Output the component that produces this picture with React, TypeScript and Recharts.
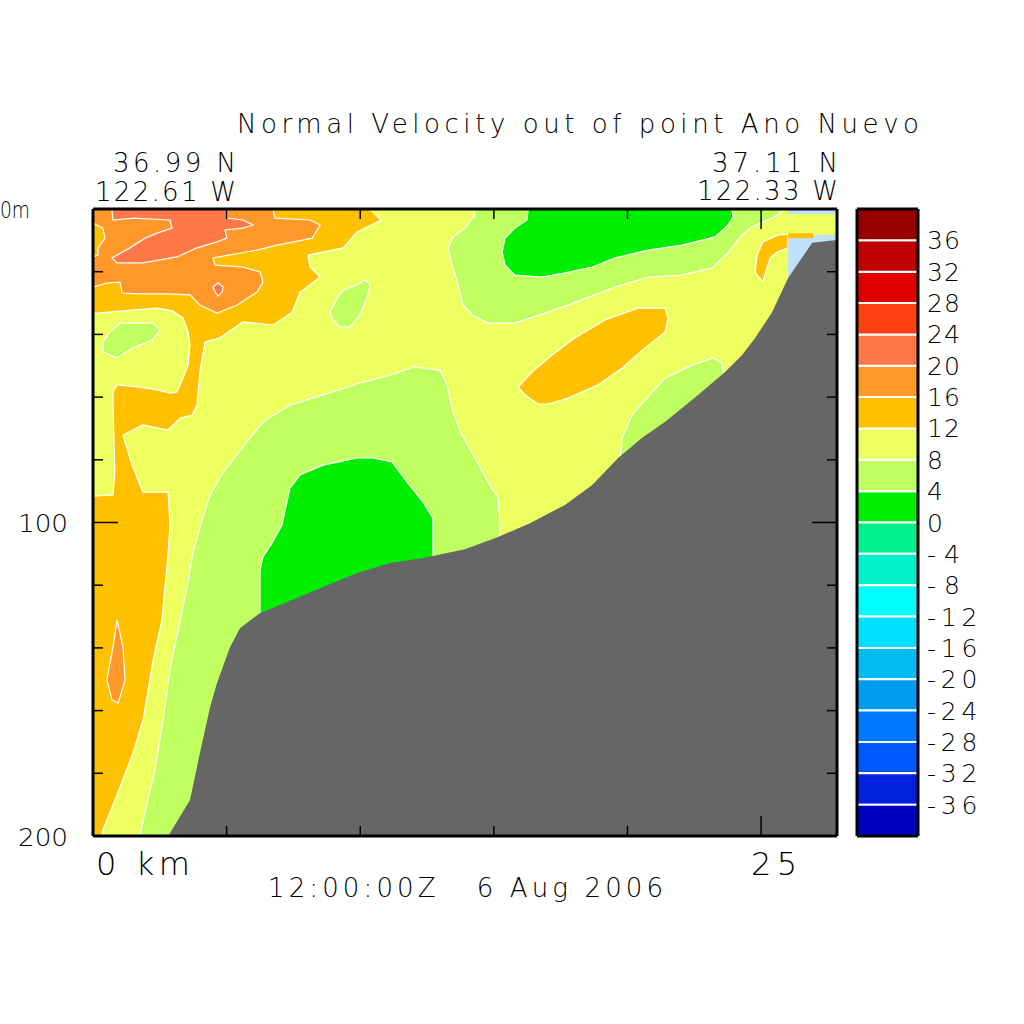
import React from 'react';
import { ComposedChart, Area, XAxis, YAxis, BarChart, Bar } from 'recharts';

type Pt = [number, number]; // [distance km, depth m]

// contour levels (cm/s) and the fill of each band between two levels
const LEVELS = [-40, -36, -32, -28, -24, -20, -16, -12, -8, -4, 0, 4, 8, 12, 16, 20, 24, 28, 32, 36, 40];
const BAND_COLORS = [
  '#0000c0', '#0020e0', '#0058ff', '#0078ff', '#009cf0', '#00bcf0', '#00e0ff', '#00ffff', '#00f0cc', '#00f08c',
  '#00ee00', '#c0ff60', '#eeff60', '#ffc000', '#ff9828', '#ff7848', '#ff4010', '#e00000', '#c00000', '#980000',
];
const bandColor = (lo: number) => BAND_COLORS[LEVELS.indexOf(lo)];

const TERRAIN_COLOR = '#666666';
const NO_DATA_COLOR = '#c0e0ff';

const KM_MAX = 27.84;
const KM_TICKS = [0, 5, 10, 15, 20, 25];
const DEPTH_TICKS = [0, 20, 40, 60, 80, 100, 120, 140, 160, 180, 200];
const CB_TICKS = [-36, -32, -28, -24, -20, -16, -12, -8, -4, 0, 4, 8, 12, 16, 20, 24, 28, 32, 36];

// contour regions, [km, m]
const BACKGROUND: Pt[] = [[-1, -5], [29, -5], [29, 205], [-1, 205]];

const ORANGE_WEST: Pt[] = [
  [9.99, -3], [10.78, 3.5], [9.88, 7.3], [9.36, 12.4], [8.05, 14.7], [8.12, 18.5], [8.5, 21.7], [7.75, 26.5],
  [7.45, 32.9], [6.74, 37.0], [5.61, 36.0], [4.75, 41.1], [4.19, 42.4], [4.0, 52.0], [3.89, 62.5], [3.71, 65.7],
  [3.26, 66.7], [2.81, 70.5], [1.87, 68.9], [1.12, 72.1], [1.46, 81.7], [1.87, 90.3], [2.81, 90.3], [2.88, 100.8],
  [2.81, 109.7], [2.58, 131.1], [2.25, 143.9], [1.87, 163.0], [1.5, 173.5], [1.01, 184.4], [0.37, 198.1],
  [0.26, 203], [-0.5, 203], [-0.5, 91.9], [0.75, 91.2], [0.82, 83.9], [0.75, 62.5], [0.75, 58.4], [0.9, 56.1],
  [1.76, 56.8], [2.4, 57.7], [2.88, 58.7], [3.14, 58.4], [3.37, 53.9], [3.56, 49.8], [3.63, 43.4], [3.56, 39.2],
  [3.37, 34.8], [2.99, 32.5], [2.4, 31.6], [1.12, 32.5], [0.15, 33.2], [-0.5, 33.8], [-0.5, -3],
];

const ORANGE_WEST_CORE: Pt[] = [
  [-0.5, -3], [6.74, -3], [6.74, 0.3], [6.81, 2.9], [8.12, 3.5], [8.5, 5.1], [8.2, 9.3], [6.89, 11.5], [6.14, 13.1],
  [4.49, 15.6], [4.57, 17.9], [5.61, 18.5], [6.25, 20.1], [6.36, 23.3], [6.14, 26.5], [5.39, 30.6], [4.64, 33.2],
  [4.0, 30.6], [3.63, 27.4], [2.77, 27.1], [1.76, 27.1], [1.09, 26.8], [1.01, 23.3], [0.52, 23.6], [0, 24.9],
  [-0.5, 25.0], [-0.5, 15.3], [0, 15.3], [0.19, 14.7], [0.19, 12.4], [0.45, 9.3], [0.37, 6.1], [0, 4.5], [-0.5, 4.5],
];

const SALMON_WEST: Pt[] = [
  [0.71, -3], [0.71, 0.3], [0.75, 3.5], [1.5, 2.9], [2.88, 3.5], [2.96, 6.1], [2.4, 7.7], [1.95, 9.3], [1.38, 12.4],
  [0.71, 15.6], [0.9, 17.2], [1.87, 17.2], [3.14, 15.3], [3.89, 12.4], [4.64, 10.5], [5.01, 9.3], [4.94, 6.7],
  [5.61, 6.1], [5.99, 5.1], [5.61, 3.5], [5.01, 2.9], [5.05, -3],
];
const SALMON_DOT: Pt[] = [[4.49, 24.9], [4.68, 23.6], [4.87, 24.9], [4.83, 26.5], [4.68, 27.8], [4.57, 26.5]];
const ORANGE_COLUMN_DOT: Pt[] = [
  [0.9, 131.1], [1.12, 139.7], [1.2, 150.2], [0.94, 157.6], [0.71, 156.6], [0.52, 150.2], [0.75, 139.7],
];
const LIME_WEST: Pt[] = [
  [0.37, 42.4], [0.64, 39.2], [1.01, 36.4], [2.25, 36.4], [2.51, 38.6], [2.21, 41.8], [1.5, 44.3], [0.9, 47.5], [0.37, 45.6],
];

const LIME_SLOPE: Pt[] = [
  [1.68, 203], [2.02, 189.5], [2.32, 178.9], [2.62, 163.0], [2.88, 147.0], [3.26, 131.1], [3.52, 120.6],
  [3.74, 109.7], [4.08, 99.2], [4.38, 91.2], [4.87, 83.9], [5.76, 74.3], [6.36, 67.9], [7.37, 62.5], [8.61, 59.3],
  [10.1, 55.2], [11.12, 53.0], [11.98, 50.4], [12.99, 51.4], [13.25, 56.1], [13.47, 64.8], [13.81, 72.1],
  [14.3, 79.4], [14.78, 87.1], [15.16, 92.2], [15.23, 100.8], [15.19, 115.2], [15.19, 203],
];
const GREEN_SLOPE: Pt[] = [
  [6.25, 137.5], [6.25, 115.2], [6.36, 111.0], [6.7, 106.5], [7.07, 100.8], [7.37, 89.0], [7.75, 84.8], [8.61, 81.7],
  [9.88, 79.4], [10.48, 79.4], [11.19, 80.7], [11.75, 87.1], [12.35, 93.5], [12.72, 98.6], [12.72, 124.7],
];

const LIME_NORTH: Pt[] = [
  [14.11, -3], [14.3, 1.9], [13.92, 6.1], [13.47, 8.9], [13.29, 12.4], [13.44, 17.9], [13.66, 24.2], [13.85, 30.6],
  [14.18, 33.8], [14.78, 36.4], [15.79, 36.4], [17.03, 32.9], [18.3, 29.0], [19.54, 24.9], [20.77, 21.7],
  [22.04, 21.1], [23.17, 18.8], [23.76, 14.0], [24.29, 8.3], [24.66, 5.7], [25.41, 2.9], [25.71, 1.3], [25.79, -3],
];
const GREEN_NORTH: Pt[] = [
  [16.28, -3], [16.28, 0.3], [16.24, 3.5], [15.79, 6.1], [15.42, 9.3], [15.31, 13.7], [15.42, 17.9], [15.79, 21.1],
  [16.8, 21.7], [17.66, 20.4], [18.68, 18.5], [19.54, 15.6], [20.77, 13.1], [22.04, 11.5], [23.28, 8.9],
  [23.76, 5.1], [23.95, 2.6], [23.91, 0.3], [23.91, -3],
];
const LIME_ISLAND: Pt[] = [
  [8.87, 32.9], [9.13, 28.4], [9.36, 25.8], [9.88, 24.2], [10.18, 22.6], [10.37, 24.2], [10.25, 28.4], [9.99, 33.8],
  [9.62, 37.6], [9.24, 37.6], [8.98, 35.4],
];
const LIME_SHELF: Pt[] = [
  [19.72, 79.4], [19.8, 73.0], [20.17, 65.7], [20.92, 58.4], [21.41, 53.9], [22.42, 49.8], [23.2, 47.5],
  [23.54, 49.1], [23.58, 52.3], [23.58, 60.9], [19.72, 86.4],
];
const ORANGE_MID: Pt[] = [
  [15.91, 56.8], [16.43, 52.0], [17.18, 46.6], [18.04, 41.1], [19.16, 35.4], [20.4, 31.6], [21.41, 31.6],
  [21.52, 34.8], [21.41, 39.2], [20.66, 44.3], [19.8, 50.7], [18.9, 56.1], [17.78, 60.3], [17.03, 62.2],
  [16.65, 62.2], [16.17, 59.3],
];
const ORANGE_EAST: Pt[] = [
  [24.78, 20.1], [24.85, 14.7], [25.07, 10.5], [25.64, 8.3], [26.01, 8.0], [26.01, 12.4], [25.6, 13.7],
  [25.34, 15.6], [25.22, 18.8], [25.07, 23.0], [24.85, 21.1],
];

const NO_DATA_TOP: Pt[] = [[26.01, -3], [28.3, -3], [28.3, 1.6], [26.01, 1.6]];
const NO_DATA_EAST: Pt[] = [[26.01, 8.3], [28.3, 8.3], [28.3, 30], [26.01, 30]];
const ORANGE_STRIP: Pt[] = [[26.01, 7.7], [26.95, 7.7], [26.95, 9.3], [26.01, 9.3]];

const TERRAIN: Pt[] = [
  [2.84, 203], [2.84, 199.7], [3.63, 188.5], [4.0, 173.5], [4.38, 158.9], [4.64, 151.2], [5.13, 139.7], [5.5, 133.7],
  [6.25, 128.9], [7.0, 126.3], [8.61, 120.6], [9.88, 116.1], [11.12, 112.9], [12.35, 111.3], [13.92, 108.5],
  [15.16, 104.6], [16.35, 100.2], [17.66, 94.4], [18.68, 88.0], [19.65, 79.4], [20.55, 73.0], [21.41, 67.9],
  [22.64, 59.3], [23.65, 52.0], [24.29, 46.6], [24.78, 41.1], [25.41, 32.9], [26.01, 22.0], [26.91, 10.8],
  [27.84, 9.9], [28.3, 9.9], [28.3, 203],
];

// painting order: later regions lie on top
const REGIONS = [
  { id: 'bg', pts: BACKGROUND, fill: bandColor(8), line: false },
  { id: 'o-west', pts: ORANGE_WEST, fill: bandColor(12), line: true },
  { id: 'o-west-core', pts: ORANGE_WEST_CORE, fill: bandColor(16), line: true },
  { id: 's-west', pts: SALMON_WEST, fill: bandColor(20), line: true },
  { id: 's-dot', pts: SALMON_DOT, fill: bandColor(20), line: true },
  { id: 'o-col', pts: ORANGE_COLUMN_DOT, fill: bandColor(16), line: true },
  { id: 'l-west', pts: LIME_WEST, fill: bandColor(4), line: true },
  { id: 'l-slope', pts: LIME_SLOPE, fill: bandColor(4), line: true },
  { id: 'g-slope', pts: GREEN_SLOPE, fill: bandColor(0), line: true },
  { id: 'l-north', pts: LIME_NORTH, fill: bandColor(4), line: true },
  { id: 'g-north', pts: GREEN_NORTH, fill: bandColor(0), line: true },
  { id: 'l-island', pts: LIME_ISLAND, fill: bandColor(4), line: true },
  { id: 'l-shelf', pts: LIME_SHELF, fill: bandColor(4), line: true },
  { id: 'o-mid', pts: ORANGE_MID, fill: bandColor(12), line: true },
  { id: 'o-east', pts: ORANGE_EAST, fill: bandColor(12), line: true },
  { id: 'nd-top', pts: NO_DATA_TOP, fill: NO_DATA_COLOR, line: false },
  { id: 'nd-east', pts: NO_DATA_EAST, fill: NO_DATA_COLOR, line: false },
  { id: 'o-strip', pts: ORANGE_STRIP, fill: bandColor(12), line: false },
  { id: 'terrain', pts: TERRAIN, fill: TERRAIN_COLOR, line: false },
];

// closed ring of points for an Area
const ring = (pts: Pt[]) => [...pts, pts[0]].map(([x, y]) => ({ x, y }));

// colour bar: one stacked bar, bands grow away from 0 in both directions
const CB_BANDS = LEVELS.slice(0, -1).map((lo, i) => ({ key: `b${i}`, lo, hi: LEVELS[i + 1], color: BAND_COLORS[i] }));
const CB_ORDER = [
  ...CB_BANDS.filter((b) => b.lo >= 0),
  ...CB_BANDS.filter((b) => b.hi <= 0).reverse(),
];
const CB_ROW: Record<string, number | string> = { name: 'w' };
CB_BANDS.forEach((b) => {
  CB_ROW[b.key] = b.lo >= 0 ? b.hi - b.lo : b.lo - b.hi;
});

const FONT = "'DejaVu Sans', 'Noto Sans', sans-serif";
const TXT = { fontFamily: FONT, fontWeight: 200, fill: '#000' } as const;

const LeftTick = (props: any) => {
  const { x, y, payload } = props;
  const v = payload.value as number;
  const major = v % 100 === 0;
  return (
    <g>
      <line x1={x} y1={y} x2={x + (major ? 25 : 10)} y2={y} stroke="#000" strokeWidth={1.5} />
      {v === 0 && (
        <text x={0} y={y + 9} fontSize={23} textLength={30} lengthAdjust="spacingAndGlyphs" {...TXT}>
          0m
        </text>
      )}
      {v !== 0 && major && (
        <text x={x - 75} y={y + 9.5} fontSize={25} textLength={50} lengthAdjust="spacingAndGlyphs" {...TXT}>
          {v}
        </text>
      )}
    </g>
  );
};

const RightTick = (props: any) => {
  const { x, y, payload } = props;
  const major = payload.value % 100 === 0;
  return <line x1={x} y1={y} x2={x - (major ? 25 : 10)} y2={y} stroke="#000" strokeWidth={1.5} />;
};

const BottomTick = (props: any) => {
  const { x, y, payload } = props;
  const v = payload.value as number;
  const major = v === 0 || v === 25;
  return (
    <g>
      <line x1={x} y1={y} x2={x} y2={y - (major ? 20 : 10)} stroke="#000" strokeWidth={1.5} />
      {v === 0 && (
        <text x={x + 3} y={y + 39} fontSize={32} textLength={94} lengthAdjust="spacing" {...TXT}>
          0 km
        </text>
      )}
      {v === 25 && (
        <text x={x - 10} y={y + 39} fontSize={32} textLength={46} lengthAdjust="spacing" {...TXT}>
          25
        </text>
      )}
    </g>
  );
};

const TopTick = (props: any) => {
  const { x, y, payload } = props;
  const major = payload.value === 25;
  return <line x1={x} y1={y} x2={x} y2={y + (major ? 20 : 10)} stroke="#000" strokeWidth={1.5} />;
};

const CbTick = (props: any) => {
  const { x, y, payload } = props;
  const s = String(payload.value);
  return (
    <text x={x + 9} y={y + 9} fontSize={25} textLength={s.length * 17.5 - 2} lengthAdjust="spacing" {...TXT}>
      {s}
    </text>
  );
};

const FRAME = { stroke: '#000', strokeWidth: 3 };

const App: React.FC = () => {
  return (
    <div style={{ position: 'absolute', left: 0, top: 0, width: 1024, height: 1024, background: '#fff' }}>
      <div style={{ position: 'absolute', left: 0, top: 0 }}>
        <ComposedChart width={1024} height={1024} margin={{ top: 199, right: 177, bottom: 128, left: 33 }}>
          {REGIONS.map((r) => (
            <Area
              key={r.id}
              data={ring(r.pts)}
              dataKey="y"
              type="linear"
              fill={r.fill}
              fillOpacity={1}
              stroke={r.line ? '#ffffff' : 'none'}
              strokeWidth={1.2}
              dot={false}
              activeDot={false}
              isAnimationActive={false}
            />
          ))}
          <XAxis
            type="number"
            dataKey="x"
            domain={[0, KM_MAX]}
            ticks={KM_TICKS}
            allowDataOverflow
            height={60}
            tickSize={0}
            tickMargin={0}
            tickLine={false}
            axisLine={FRAME}
            tick={BottomTick}
          />
          <XAxis
            xAxisId="top"
            orientation="top"
            type="number"
            dataKey="x"
            domain={[0, KM_MAX]}
            ticks={KM_TICKS}
            allowDataOverflow
            height={10}
            tickSize={0}
            tickMargin={0}
            tickLine={false}
            axisLine={FRAME}
            tick={TopTick}
          />
          <YAxis
            type="number"
            domain={[0, 200]}
            reversed
            ticks={DEPTH_TICKS}
            allowDataOverflow
            width={60}
            tickSize={0}
            tickMargin={0}
            tickLine={false}
            axisLine={FRAME}
            tick={LeftTick}
          />
          <YAxis
            yAxisId="right"
            orientation="right"
            type="number"
            domain={[0, 200]}
            reversed
            ticks={DEPTH_TICKS}
            allowDataOverflow
            width={10}
            tickSize={0}
            tickMargin={0}
            tickLine={false}
            axisLine={FRAME}
            tick={RightTick}
          />
        </ComposedChart>
      </div>

      {/* colour bar */}
      <div style={{ position: 'absolute', left: 0, top: 0 }}>
        <BarChart
          width={1024}
          height={1024}
          data={[CB_ROW]}
          stackOffset="sign"
          barCategoryGap={0}
          margin={{ top: 199, right: 46, bottom: 178, left: 847 }}
        >
          {CB_ORDER.map((b) => (
            <Bar
              key={b.key}
              dataKey={b.key}
              stackId="cb"
              fill={b.color}
              stroke="#ffffff"
              strokeWidth={2}
              isAnimationActive={false}
            />
          ))}
          <XAxis dataKey="name" height={10} tick={false} tickLine={false} axisLine={FRAME} />
          <XAxis xAxisId="top" orientation="top" dataKey="name" height={10} tick={false} tickLine={false} axisLine={FRAME} />
          <YAxis
            orientation="right"
            type="number"
            domain={[-40, 40]}
            ticks={CB_TICKS}
            width={60}
            tickSize={0}
            tickMargin={0}
            tickLine={false}
            axisLine={FRAME}
            tick={CbTick}
          />
          <YAxis
            yAxisId="left"
            orientation="left"
            type="number"
            domain={[-40, 40]}
            width={10}
            tick={false}
            tickLine={false}
            axisLine={FRAME}
          />
        </BarChart>
      </div>

      {/* titles */}
      <svg width={1024} height={1024} style={{ position: 'absolute', left: 0, top: 0, pointerEvents: 'none' }}>
        <g fontSize={26} {...TXT}>
          <text x={237} y={133} textLength={682} lengthAdjust="spacing">Normal Velocity out of point Ano Nuevo</text>
          <text x={113} y={172} textLength={123} lengthAdjust="spacing">36.99 N</text>
          <text x={95} y={201} textLength={141} lengthAdjust="spacing">122.61 W</text>
          <text x={712} y={172} textLength={126} lengthAdjust="spacing">37.11 N</text>
          <text x={697} y={200} textLength={141} lengthAdjust="spacing">122.33 W</text>
          <text x={268} y={897} textLength={395} lengthAdjust="spacing" style={{ whiteSpace: 'pre' }} xmlSpace="preserve">
            {'12:00:00Z   6 Aug 2006'}
          </text>
        </g>
      </svg>
    </div>
  );
};

export default App;
